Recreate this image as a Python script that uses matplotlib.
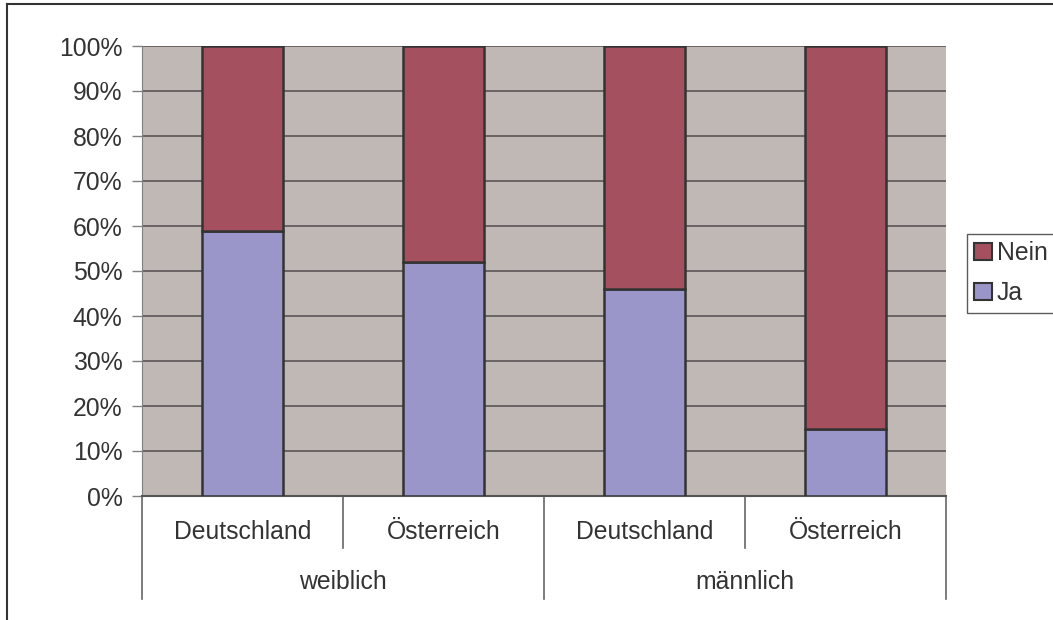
import matplotlib.pyplot as plt
from matplotlib.lines import Line2D
from matplotlib.patches import Patch
from matplotlib.ticker import PercentFormatter

plt.rcParams['font.family'] = ['Liberation Sans', 'DejaVu Sans']

countries = ['Deutschland', 'Österreich', 'Deutschland', 'Österreich']
genders = ['weiblich', 'männlich']
ja = [59, 52, 46, 15]
nein = [100 - v for v in ja]

c_ja = '#9b96c9'
c_nein = '#a5505f'
c_bg = '#c0b8b5'
c_text = '#333333'
fs = 17.8

fig = plt.figure(figsize=(10.53, 6.2), dpi=100)
ax = fig.add_axes([142 / 1053, 124 / 620, 804 / 1053, 450 / 620])
ax.set_facecolor(c_bg)

x = range(len(countries))
ax.bar(x, ja, width=0.4, color=c_ja, edgecolor='#333333', linewidth=1.8, zorder=3)
ax.bar(x, nein, bottom=ja, width=0.4, color=c_nein, edgecolor='#333333', linewidth=1.8, zorder=3)

ax.set_xlim(-0.5, 3.5)
ax.set_ylim(0, 100)
ax.set_yticks(range(0, 101, 10))
ax.yaxis.set_major_formatter(PercentFormatter(decimals=0))
ax.yaxis.grid(True, color='#5a5656', linewidth=1.2, zorder=1)
ax.set_xticks([])
ax.tick_params(axis='y', length=7, width=1, color='#808080', labelsize=fs, labelcolor=c_text, pad=7)

for s in ['top', 'right']:
    ax.spines[s].set_visible(False)
ax.spines['left'].set_color('#808080')
ax.spines['bottom'].set_color('#555555')
ax.spines['bottom'].set_linewidth(1.5)

tr = ax.get_xaxis_transform()
for i, c in enumerate(countries):
    ax.text(i, -0.08, c, transform=tr, ha='center', va='center', fontsize=fs, color=c_text)
for i in range(5):
    xb = i - 0.5
    ybot = -0.229 if i % 2 == 0 else -0.1156
    ax.plot([xb, xb], [0, ybot], transform=tr, color='#666666', linewidth=1.2, clip_on=False)
for j, g in enumerate(genders):
    ax.text(2 * j + 0.5, -0.191, g, transform=tr, ha='center', va='center', fontsize=fs, color=c_text)

handles = [Patch(facecolor=c_nein, edgecolor='#333333', linewidth=1.5, label='Nein'),
           Patch(facecolor=c_ja, edgecolor='#333333', linewidth=1.5, label='Ja')]
leg = fig.legend(handles=handles, loc='upper left', bbox_to_anchor=(967 / 1053, 1 - 234 / 620),
                 fontsize=fs, frameon=True, fancybox=False, edgecolor='#333333',
                 handlelength=0.7, handleheight=0.7, handletextpad=0.2, borderpad=0.3,
                 labelspacing=0.65, borderaxespad=0)
leg.get_frame().set_linewidth(1.0)
for t in leg.get_texts():
    t.set_color(c_text)

fig.add_artist(Line2D([7 / 1053, 1], [1 - 4 / 620, 1 - 4 / 620], color='#333333', linewidth=1.5))
fig.add_artist(Line2D([7 / 1053, 7 / 1053], [0, 1 - 4 / 620], color='#333333', linewidth=1.5))

fig.savefig('out.png', dpi=100)
